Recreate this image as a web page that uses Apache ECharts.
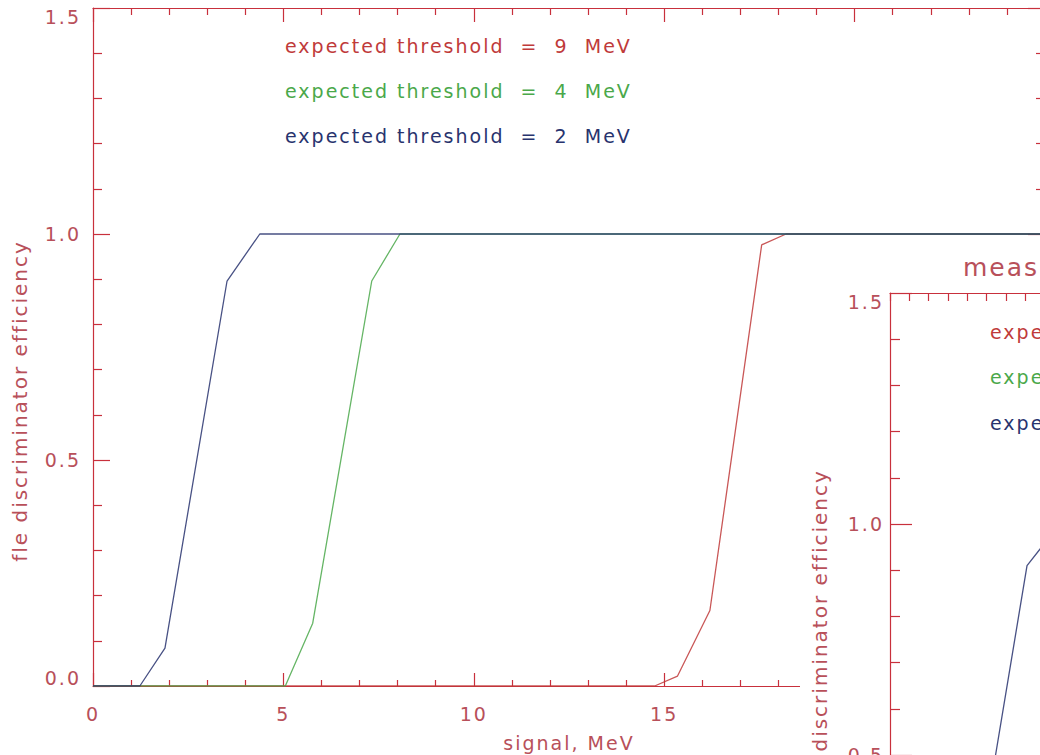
<!DOCTYPE html>
<html><head><meta charset="utf-8">
<script src="https://cdn.jsdelivr.net/npm/echarts@6/dist/echarts.min.js"></script>
<style>
html,body{margin:0;padding:0;background:#fff;overflow:hidden;width:1040px;height:755px}
#main{position:absolute;left:0;top:0;width:1040px;height:755px}
#inset{position:absolute;left:800px;top:245px;width:240px;height:510px;background:#fff}
#main svg text, #inset svg text{letter-spacing:2px}
</style></head><body>
<div id="main"></div><div id="inset"></div>
<script>
// ---- data ----
const xTickValues = [0, 5, 10, 15, 20];
const yTickValues = [0.0, 0.5, 1.0, 1.5];
const seriesNames = ['expected threshold  =  9  MeV', 'expected threshold  =  4  MeV', 'expected threshold  =  2  MeV'];
const red9 = [[0, 0], [14.75, 0], [15.35, 0.022], [16.2, 0.167], [17.56, 0.976], [18.2, 1.0], [25, 1.0]];
const green4 = [[0, 0], [5.05, 0], [5.77, 0.139], [7.32, 0.896], [8.06, 1.0], [25, 1.0]];
const blue2 = [[0, 0], [1.23, 0], [1.89, 0.084], [3.52, 0.896], [4.38, 1.0], [25, 1.0]];
const xTitle = 'signal, MeV';
const yTitle = 'fle discriminator efficiency';
const insetTitle = 'measured threshold';
const measBlue2 = [[0, 0], [1.2, 0], [1.9, 0.08], [3.55, 0.91], [4.4, 1.0], [25, 1.0]];

// ---- styles ----
const AX = '#c8303c';
const LBL = '#b8505a';
const COLORS = ['#c03a3a', '#4aa84a', '#28336e'];
const FONT = '"DejaVu Sans", sans-serif';

function xAx(pos, showLabel, majorLen, minorLen, minorSplit, name) {
  return {
    type: 'value', position: pos, min: 0, max: 25, interval: 5,
    axisLine: { show: true, onZero: false, lineStyle: { color: AX, width: 1.2 } },
    axisTick: { show: true, inside: true, length: majorLen, lineStyle: { color: AX, width: 1.2 } },
    minorTick: { show: true, splitNumber: minorSplit, length: minorLen, lineStyle: { color: AX, width: 1.2 } },
    axisLabel: { show: showLabel, color: LBL, fontSize: 19, fontFamily: FONT, margin: 18,
      formatter: v => xTickValues.includes(v) ? String(v) : '' },
    splitLine: { show: false },
    name: name || '', nameLocation: 'middle', nameGap: 47,
    nameTextStyle: { color: LBL, fontSize: 19, fontFamily: FONT }
  };
}
const labelRich = {
  hi: { color: LBL, fontSize: 19, fontFamily: FONT, padding: [18, 0, 0, 0] },
  lo: { color: LBL, fontSize: 19, fontFamily: FONT, padding: [0, 0, 16, 0] }
};
function yAx(pos, showLabel, majorLen, minorLen, margin) {
  return {
    type: 'value', position: pos, min: 0, max: 1.5, interval: 0.5,
    axisLine: { show: true, onZero: false, lineStyle: { color: AX, width: 1.2 } },
    axisTick: { show: true, inside: true, length: majorLen, lineStyle: { color: AX, width: 1.2 } },
    minorTick: { show: true, splitNumber: 5, length: minorLen, lineStyle: { color: AX, width: 1.2 } },
    axisLabel: { show: showLabel, color: LBL, fontSize: 19, fontFamily: FONT, margin: margin || 12, rich: labelRich,
      formatter: v => {
        if (!yTickValues.includes(v)) return '';
        const s = v.toFixed(1);
        if (v === 1.5) return '{hi|' + s + '}';
        if (v === 0) return '{lo|' + s + '}';
        return s;
      } },
    splitLine: { show: false }
  };
}
function lineSeries(name, data, color, z) {
  return { type: 'line', name, data, xAxisIndex: 0, yAxisIndex: 0, showSymbol: false, symbol: 'none',
    z: z, lineStyle: { color, width: 1.3, opacity: 0.85 }, animation: false };
}
function txt(left, top, text, color, size) {
  return { type: 'text', left, top, style: { text, fill: color, font: size + 'px ' + FONT } };
}
function vtxt(x, y, text, size) {
  return { type: 'text', x, y, rotation: Math.PI / 2,
    style: { text, fill: LBL, font: size + 'px ' + FONT, textAlign: 'center', textVerticalAlign: 'middle' } };
}

const main = echarts.init(document.getElementById('main'), null, { renderer: 'svg' });
main.setOption({
  animation: false,
  backgroundColor: '#fff',
  grid: { left: 93, top: 8, width: 952, height: 678, outerBoundsMode: 'none', containLabel: false },
  xAxis: [xAx('bottom', true, 13, 6, 5, xTitle), xAx('top', false, 14, 7, 5)],
  yAxis: [yAx('left', true, 17, 9, 12), yAx('right', false, 17, 9)],
  series: [
    lineSeries(seriesNames[0], red9, COLORS[0], 2),
    lineSeries(seriesNames[1], green4, COLORS[1], 3),
    lineSeries(seriesNames[2], blue2, COLORS[2], 4)
  ],
  graphic: [
    txt(285, 36, seriesNames[0], COLORS[0], 19),
    txt(285, 81, seriesNames[1], COLORS[1], 19),
    txt(285, 126, seriesNames[2], COLORS[2], 19),
    vtxt(20, 401, yTitle, 20)
  ]
});

const inset = echarts.init(document.getElementById('inset'), null, { renderer: 'svg' });
inset.setOption({
  animation: false,
  backgroundColor: '#fff',
  grid: { left: 90, top: 48, width: 965, height: 693, outerBoundsMode: 'none', containLabel: false },
  xAxis: [xAx('bottom', false, 13, 6, 10), xAx('top', false, 8, 8, 10)],
  yAxis: [yAx('left', true, 22, 10, 6)],
  series: [lineSeries(seriesNames[2], measBlue2, COLORS[2], 4)],
  graphic: [
    txt(163, 10, insetTitle, LBL, 25),
    txt(190, 77, seriesNames[0], COLORS[0], 19),
    txt(190, 122, seriesNames[1], COLORS[1], 19),
    txt(190, 168, seriesNames[2], COLORS[2], 19),
    vtxt(20, 385, yTitle, 20)
  ]
});
</script>
</body></html>
